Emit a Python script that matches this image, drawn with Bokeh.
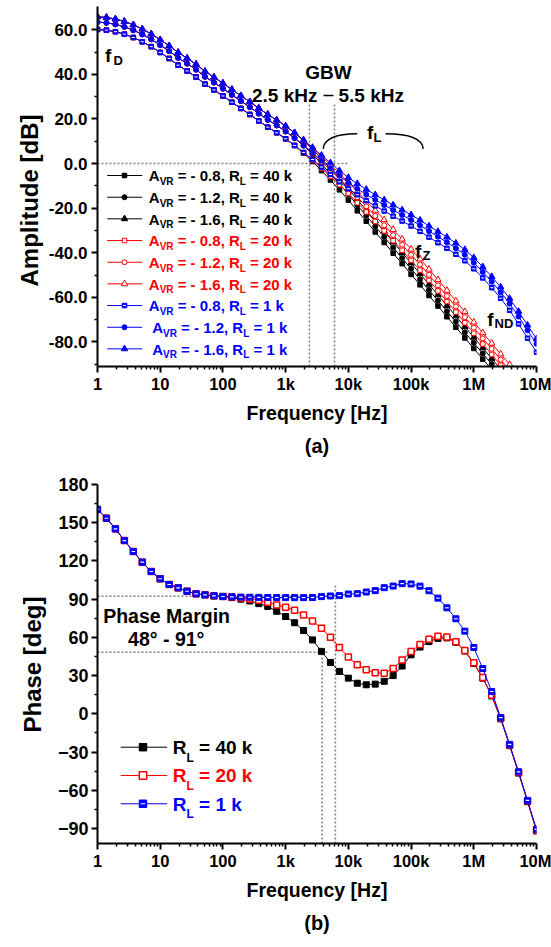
import json
from bokeh.plotting import figure
from bokeh.models import Range1d, FixedTicker, CustomJSTickFormatter, Title
from bokeh.layouts import column
from bokeh.embed import file_html
from bokeh.resources import INLINE
from bokeh.core.properties import value

FONT = "Liberation Sans"
BLACK, RED, BLUE, GRAY = "#000000", "#FF0000", "#0000FF", "#7f7f7f"

# ---------------- data ----------------
FREQ_HZ = [1, 1.389, 1.931, 2.683, 3.728, 5.179, 7.197,
           10, 13.89, 19.31, 26.83, 37.28, 51.79, 71.97,
           100, 138.9, 193.1, 268.3, 372.8, 517.9, 719.7,
           1e3, 1389, 1931, 2683, 3728, 5179, 7197,
           1e4, 13890, 19310, 26830, 37280, 51790, 71970,
           1e5, 138900, 193100, 268300, 372800, 517900, 719700,
           1e6, 1.389e6, 1.931e6, 2.683e6, 3.728e6, 5.179e6, 7.197e6,
           1e7]

# amplitude [dB], low-frequency part shared by all loads (first 23 points)
MAG_LF_AVR08 = [60.1, 59.8, 59.1, 58.0, 56.5, 54.6, 52.4, 49.8, 47.1, 44.1, 41.5, 38.8,
                35.6, 33.0, 30.3, 27.5, 24.7, 22.0, 19.1, 16.3, 13.8, 11.1, 8.1]
MAG_LF_AVR12 = [63.4, 63.1, 62.4, 61.3, 59.8, 57.9, 55.7, 53.1, 50.4, 47.4, 44.8, 42.1,
                38.9, 36.3, 33.6, 30.8, 28.0, 25.3, 22.4, 19.6, 17.1, 14.4, 11.4]
MAG_LF_AVR16 = [65.8, 65.5, 64.8, 63.7, 62.2, 60.3, 58.1, 55.5, 52.8, 49.8, 47.2, 44.5,
                41.3, 38.7, 36.0, 33.2, 30.4, 27.7, 24.8, 22.0, 19.5, 16.8, 13.8]
# amplitude [dB], high-frequency part (remaining 27 points)
MAG_HF_40K_08 = [4.6, 0.9, -3.2, -7.4, -11.8, -16.4, -21.2, -25.9, -30.7, -35.4, -40.2, -44.9, -49.7, -54.4,
                 -59.2, -63.9, -68.7, -73.4, -78.2, -82.9, -87.7, -92.4, -97.2, -101.9, -106.7, -111.4, -116.2]
MAG_HF_40K_12 = [8.0, 4.1, -0.2, -4.6, -9.1, -13.8, -18.7, -23.4, -28.2, -32.9, -37.7, -42.4, -47.2, -51.9,
                 -56.7, -61.4, -66.2, -70.9, -75.7, -80.4, -85.2, -89.9, -94.7, -99.4, -104.2, -108.9, -113.7]
MAG_HF_40K_16 = [10.2, 6.3, 2.1, -2.2, -6.7, -11.4, -16.2, -20.9, -25.7, -30.4, -35.2, -39.9, -44.7, -49.4,
                 -54.2, -58.9, -63.7, -68.4, -73.2, -77.9, -82.7, -87.4, -92.2, -96.9, -101.7, -106.4, -111.2]
MAG_HF_20K_08 = [4.8, 1.4, -2.2, -5.8, -9.5, -13.4, -17.6, -21.7, -26.0, -30.2, -34.6, -38.9, -43.4, -47.8,
                 -52.4, -57.1, -61.9, -66.6, -71.4, -76.1, -80.9, -85.6, -90.4, -95.1, -99.9, -104.6, -109.4]
MAG_HF_20K_12 = [8.2, 4.6, 0.8, -3.0, -6.8, -10.8, -15.1, -19.2, -23.5, -27.7, -32.1, -36.4, -40.9, -45.3,
                 -49.9, -54.6, -59.4, -64.1, -68.9, -73.6, -78.4, -83.1, -87.9, -92.6, -97.4, -102.1, -106.9]
MAG_HF_20K_16 = [10.4, 6.8, 3.1, -0.6, -4.4, -8.4, -12.6, -16.7, -21.0, -25.2, -29.6, -33.9, -38.4, -42.8,
                 -47.4, -52.1, -56.9, -61.6, -66.4, -71.1, -75.9, -80.6, -85.4, -90.1, -94.9, -99.6, -104.4]
MAG_HF_1K_08 = [5.0, 1.8, -1.6, -4.9, -8.2, -11.3, -14.0, -16.6, -19.0, -21.3, -23.6, -25.8, -28.0, -30.4,
                -33.0, -35.5, -38.0, -40.7, -43.6, -47.2, -51.3, -55.7, -60.4, -65.8, -71.9, -78.3, -84.6]
MAG_HF_1K_12 = [8.2, 4.8, 1.3, -2.1, -5.5, -8.6, -11.3, -13.9, -16.3, -18.6, -20.9, -23.1, -25.3, -27.7,
                -30.3, -32.8, -35.3, -38.0, -40.9, -44.5, -48.6, -53.0, -57.7, -62.8, -68.6, -74.8, -80.8]
MAG_HF_1K_16 = [10.6, 7.2, 3.7, 0.3, -3.2, -6.3, -9.0, -11.6, -14.0, -16.3, -18.6, -20.8, -23.0, -25.4,
                -28.0, -30.5, -33.0, -35.7, -38.6, -42.2, -46.3, -50.7, -55.4, -60.5, -66.3, -72.5, -78.6]

# phase [deg], common first 15 points, then per load
PH_LF = [160.4, 153.5, 145.2, 136.0, 127.4, 119.0, 111.7, 106.0, 101.5, 98.9, 96.2, 94.2, 93.4, 92.6, 92.1]
PH_HF_40K = [91.2, 90.0, 88.6, 86.5, 84.3, 80.5, 76.4, 71.5, 65.4, 58.0, 49.0, 40.3, 33.3, 28.0, 24.0,
             22.8, 23.3, 25.5, 30.0, 37.5, 46.3, 52.4, 56.7, 59.2, 59.6, 56.2, 49.3, 39.5, 28.0, 14.0,
             -4.0, -25.0, -46.5, -69.0, -92.0]
PH_HF_20K = [91.6, 91.0, 90.2, 89.2, 87.6, 85.4, 83.7, 81.2, 77.6, 72.9, 67.1, 60.0, 52.1, 44.6, 38.5,
             34.5, 32.3, 31.8, 35.5, 42.3, 48.9, 54.4, 58.5, 60.9, 60.2, 56.6, 49.6, 40.0, 28.5, 14.5,
             -3.5, -24.5, -46.0, -68.5, -91.5]
PH_HF_1K = [91.8, 91.6, 91.5, 91.4, 91.3, 91.3, 91.2, 91.2, 91.2, 91.3, 92.0, 92.5, 92.8, 94.0, 94.3,
            95.6, 96.7, 99.0, 100.3, 102.2, 101.9, 100.2, 96.6, 90.8, 83.2, 74.6, 64.9, 52.1, 35.5, 17.5,
            -3.0, -24.0, -45.5, -68.0, -90.7]

X_TICKS = [1, 10, 100, 1e3, 1e4, 1e5, 1e6, 1e7]
X_TICK_LABELS = ["1", "10", "100", "1k", "10k", "100k", "1M", "10M"]
X_MINOR = [m * 10 ** d for d in range(7) for m in range(2, 10)]
AMP_TICKS = [-80, -60, -40, -20, 0, 20, 40, 60]
AMP_MINOR = [-90, -70, -50, -30, -10, 10, 30, 50]
PH_TICKS = [-90, -60, -30, 0, 30, 60, 90, 120, 150, 180]
PH_MINOR = [-75, -45, -15, 15, 45, 75, 105, 135, 165]

AVR_LABELS = ["- 0.8", "- 1.2", "- 1.6"]
RL_LABELS = ["40 k", "20 k", "1 k"]

# reference (guide) lines
GBW_LINES_HZ = [2400, 6010]
GBW_LINE_TOP_DB = 26.9
ZERO_LINE_END_HZ = 10430
PM_LEVELS_DEG = [48.3, 92.3]
PM_LEVEL_ENDS_HZ = [4816, 6221]
PM_LINES_HZ = [3822, 6221]
PM_LINE_TOPS_DEG = [48.3, 102.0]

MAG = {
    ("40 k", "- 0.8"): MAG_LF_AVR08 + MAG_HF_40K_08,
    ("40 k", "- 1.2"): MAG_LF_AVR12 + MAG_HF_40K_12,
    ("40 k", "- 1.6"): MAG_LF_AVR16 + MAG_HF_40K_16,
    ("20 k", "- 0.8"): MAG_LF_AVR08 + MAG_HF_20K_08,
    ("20 k", "- 1.2"): MAG_LF_AVR12 + MAG_HF_20K_12,
    ("20 k", "- 1.6"): MAG_LF_AVR16 + MAG_HF_20K_16,
    ("1 k", "- 0.8"): MAG_LF_AVR08 + MAG_HF_1K_08,
    ("1 k", "- 1.2"): MAG_LF_AVR12 + MAG_HF_1K_12,
    ("1 k", "- 1.6"): MAG_LF_AVR16 + MAG_HF_1K_16,
}
PHASE = {"40 k": PH_LF + PH_HF_40K, "20 k": PH_LF + PH_HF_20K, "1 k": PH_LF + PH_HF_1K}

# ---------------- helpers ----------------
RL_COLOR = {"40 k": BLACK, "20 k": RED, "1 k": BLUE}
MARKER = {"- 0.8": ("square", 4.5), "- 1.2": ("circle", 5), "- 1.6": ("triangle", 6.5)}

CW = {'A': 722, 'V': 667, 'R': 722, 'L': 611, '=': 584, ' ': 278, '-': 333, '0': 556, '1': 556,
      '2': 556, '4': 556, '6': 556, '8': 556, '.': 278, ',': 278, 'k': 556}
TITLE_W = {'A': 722, 'm': 889, 'p': 611, 'l': 278, 'i': 278, 't': 333, 'u': 611, 'd': 611, 'e': 556,
           ' ': 278, '[': 333, 'B': 722, ']': 333, 'P': 667, 'h': 611, 'a': 556, 's': 556, 'g': 611}


def tw(s, size, table=CW):
    return sum(table.get(c, 556) for c in s) * size / 1000.0


# page-pixel -> data converters (for annotation placement)
def tx(px):
    return 10 ** ((px - 97.0) / (439.0 / 7))


def ty(py):
    return (163.0 - py) / 2.23


def bx(px):
    return 10 ** ((px - 96.0) / 63.0)


def by(py):
    return (713.3 - py) / 1.2745


def put_text(p, fx, fy, px, py, text, color=BLACK, size=19, align="left"):
    # py is the wanted baseline (page px); compensate renderer baseline offset
    p.text(x=[fx(px)], y=[fy(py - 0.34 * size)], text=[text], text_color=color, text_font=value(FONT),
           text_font_style="bold", text_font_size=f"{size}px", text_align=align,
           text_baseline="alphabetic")


def rich(p, fx, fy, x0, yb, parts, color, size, sub_size, sub_drop):
    x = x0
    for txt, is_sub in parts:
        s = sub_size if is_sub else size
        st = txt.lstrip(" ")
        x += (len(txt) - len(st)) * CW[" "] * s / 1000.0
        put_text(p, fx, fy, x, yb + (sub_drop if is_sub else 0), st, color, s)
        x += tw(st, s)


def marker_glyph(p, x, y, rl, avr):
    m, s = MARKER[avr]
    c = RL_COLOR[rl]
    fill = "white" if rl == "20 k" else c
    p.scatter(x, y, marker=m, size=s, line_color=c, fill_color=fill, line_width=1)
    if rl == "1 k" and avr == "- 0.8":
        p.scatter(x, y, marker="dash", size=s * 0.7, line_color="white", line_width=1)


def style(p, ytick_size, label_standoff):
    p.outline_line_color = None
    p.xgrid.visible = False
    p.ygrid.visible = False
    p.background_fill_color = "white"
    p.border_fill_color = "white"
    for ax in (p.xaxis[0], p.yaxis[0]):
        ax.axis_line_color = BLACK
        ax.axis_line_width = 2
        ax.major_tick_line_color = BLACK
        ax.major_tick_line_width = 2
        ax.minor_tick_line_color = BLACK
        ax.minor_tick_line_width = 1.5
        ax.major_tick_in = 0
        ax.major_tick_out = 6
        ax.minor_tick_in = 0
        ax.minor_tick_out = 3
        ax.major_label_text_font = FONT
        ax.major_label_text_font_style = "bold"
        ax.major_label_text_color = BLACK
        ax.axis_label_text_font = FONT
        ax.axis_label_text_font_style = "bold"
        ax.axis_label_text_color = BLACK
    xa = p.xaxis[0]
    xa.ticker = FixedTicker(ticks=X_TICKS, minor_ticks=X_MINOR)
    xa.formatter = CustomJSTickFormatter(
        code="const labels = " + json.dumps(X_TICK_LABELS) +
             "; const i = Math.round(Math.log10(tick)); return (i >= 0 && i < labels.length) ? labels[i] : '';")
    xa.major_label_text_font_size = "16.5px"
    xa.major_label_standoff = 2
    xa.axis_label = "Frequency [Hz]"
    xa.axis_label_text_font_size = "19.5px"
    xa.axis_label_standoff = label_standoff
    ya = p.yaxis[0]
    ya.major_label_text_font_size = ytick_size
    ya.major_label_standoff = 4


def title(text, size, standoff, align="center", offset=0):
    return Title(text=text, align=align, offset=offset, text_font=FONT, text_color=BLACK,
                 text_font_style="bold", text_font_size=size, standoff=standoff)


def side_title(text, size_px, frame_bottom, wanted_center, standoff):
    # left-aligned vertical title whose centre lands at the wanted page y
    length = tw(text, size_px, TITLE_W)
    offset = frame_bottom - (wanted_center + length / 2.0)
    return title(text, f"{size_px}px", standoff, align="left", offset=offset)


# ---------------- (a) amplitude ----------------
p1 = figure(width=551, height=475, x_axis_type="log", title=None,
            x_range=Range1d(1, 1e7), y_range=Range1d(-91, 70.4),
            output_backend="svg", toolbar_location=None,
            min_border_left=97, min_border_right=15, min_border_top=6, min_border_bottom=109)
style(p1, "17px", 6)
p1.yaxis[0].ticker = FixedTicker(ticks=AMP_TICKS, minor_ticks=AMP_MINOR)
p1.yaxis[0].formatter = CustomJSTickFormatter(code="return tick.toFixed(1);")
p1.add_layout(side_title("Amplitude [dB]", 24, 366, 200, 6), "left")
p1.add_layout(title("(a)", "20px", 12), "below")

# guide lines
p1.line([1, ZERO_LINE_END_HZ], [0, 0], line_color=GRAY, line_width=1.5, line_dash="2 2")
p1.segment(x0=GBW_LINES_HZ, y0=[-91] * 2, x1=GBW_LINES_HZ, y1=[GBW_LINE_TOP_DB] * 2,
           line_color=GRAY, line_width=1.5, line_dash="2 2")

for rl in RL_LABELS:
    for avr in AVR_LABELS:
        y = MAG[(rl, avr)]
        p1.line(FREQ_HZ, y, line_color=RL_COLOR[rl], line_width=1)
        marker_glyph(p1, FREQ_HZ, y, rl, avr)

# legend (drawn manually for subscripts)
rows_y = [175, 196.7, 218.3, 240, 261.7, 283.3, 305, 326.7, 348.3]
i = 0
for rl in RL_LABELS:
    for avr in AVR_LABELS:
        yc = rows_y[i]
        c = RL_COLOR[rl]
        p1.line([tx(106.7), tx(141.7)], [ty(yc), ty(yc)], line_color=c, line_width=1)
        marker_glyph(p1, [tx(124)], [ty(yc)], rl, avr)
        x0 = 151.7 if i >= 7 else 148.3
        rich(p1, tx, ty, x0, yc + 5.4,
             [("A", False), ("VR", True), (" = " + avr + ", R", False), ("L", True), (" = " + rl, False)],
             c, 15, 10, 4)
        i += 1

# annotations
put_text(p1, tx, ty, 104.5, 61.7, "f", size=19)
put_text(p1, tx, ty, 113.0, 64.5, "D", size=13)
put_text(p1, tx, ty, 328, 78, "GBW", size=19, align="center")
put_text(p1, tx, ty, 317, 101.5, "2.5 kHz", size=19, align="right")
put_text(p1, tx, ty, 338, 101.5, "5.5 kHz", size=19, align="left")
p1.segment(x0=[tx(323)], y0=[ty(95)], x1=[tx(333)], y1=[ty(95)], line_color=BLACK, line_width=1.5)
put_text(p1, tx, ty, 366.5, 138.3, "f", size=19)
put_text(p1, tx, ty, 373.0, 141.7, "L", size=13)
p1.quadratic(x0=[tx(322.7), tx(385)], y0=[ty(148.3), ty(133.3)],
             x1=[tx(356.7), tx(422.7)], y1=[ty(133.3), ty(148.3)],
             cx=[tx(324), tx(421.5)], cy=[ty(133.5), ty(133.5)], line_color=BLACK, line_width=1.5)
put_text(p1, tx, ty, 414.5, 257, "f", size=19)
put_text(p1, tx, ty, 421.9, 259, "Z", size=13)
put_text(p1, tx, ty, 486.7, 325, "f", size=19)
put_text(p1, tx, ty, 494.0, 327, "ND", size=13)

# ---------------- (b) phase ----------------
p2 = figure(width=551, height=472, x_axis_type="log", title=None,
            x_range=Range1d(1, 1e7), y_range=Range1d(-101.8, 180),
            output_backend="svg", toolbar_location=None,
            min_border_left=96, min_border_right=14, min_border_top=9, min_border_bottom=104)
style(p2, "18px", 6)
p2.yaxis[0].ticker = FixedTicker(ticks=PH_TICKS, minor_ticks=PH_MINOR)
p2.yaxis[0].major_label_standoff = 3
p2.add_layout(side_title("Phase [deg]", 24, 843, 664, 17), "left")
p2.add_layout(title("(b)", "20px", 12), "below")

for lvl, end in zip(PM_LEVELS_DEG, PM_LEVEL_ENDS_HZ):
    p2.line([1, end], [lvl, lvl], line_color=GRAY, line_width=1.5, line_dash="2 2")
p2.segment(x0=PM_LINES_HZ, y0=[-101.8] * 2, x1=PM_LINES_HZ, y1=PM_LINE_TOPS_DEG,
           line_color=GRAY, line_width=1.5, line_dash="2 2")


def phase_marker(p, x, y, rl, size):
    c = RL_COLOR[rl]
    fill = "white" if rl == "20 k" else c
    p.scatter(x, y, marker="square", size=size, line_color=c, fill_color=fill,
              line_width=1.5 if rl == "20 k" else 1)
    if rl == "1 k":
        p.scatter(x, y, marker="dash", size=size * 0.6, line_color="white", line_width=1.2)


for rl in RL_LABELS:
    p2.line(FREQ_HZ, PHASE[rl], line_color=RL_COLOR[rl], line_width=1)
    phase_marker(p2, FREQ_HZ, PHASE[rl], rl, 6)

put_text(p2, bx, by, 101.7, 622, "Phase Margin", size=19.5)
put_text(p2, bx, by, 126.7, 645, "48° - 91°", size=19.5)

leg_y = [746.7, 775, 803.3]
for yc, rl in zip(leg_y, RL_LABELS):
    c = RL_COLOR[rl]
    p2.line([bx(119.3), bx(166)], [by(yc), by(yc)], line_color=c, line_width=1)
    phase_marker(p2, [bx(141.7)], [by(yc)], rl, 7.5)
    rich(p2, bx, by, 171.7, yc + 6.8, [("R", False), ("L", True), (" = " + rl, False)], c, 19, 12, 8)

layout = column(p1, p2)
open("out.html", "w").write(file_html(layout, INLINE))
